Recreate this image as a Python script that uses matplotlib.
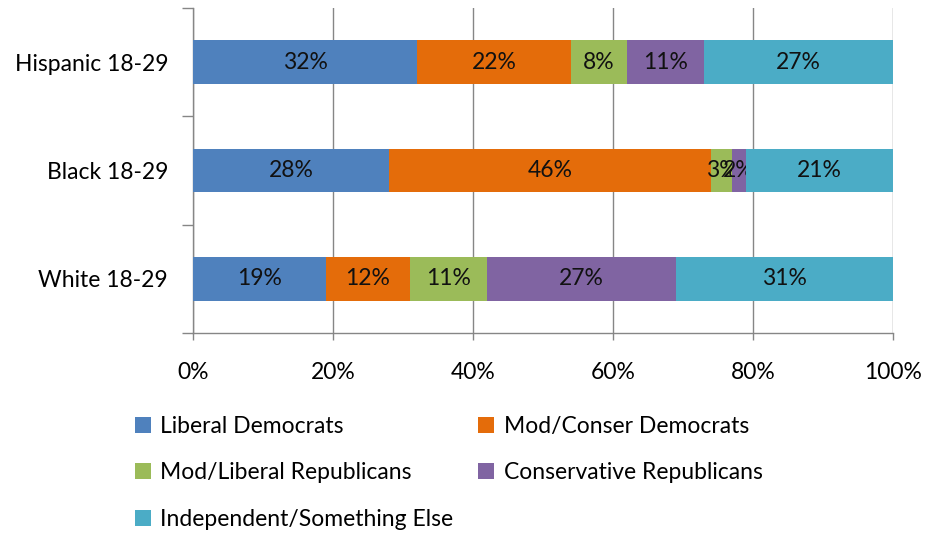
import matplotlib
matplotlib.use('Agg')
import matplotlib.pyplot as plt
from matplotlib.patches import Patch
import numpy as np

plt.rcParams['font.family'] = ['Lato', 'DejaVu Sans']

# Party identification among 18-29 year olds (percent)
groups = ['White 18-29', 'Black 18-29', 'Hispanic 18-29']
series = ['Liberal Democrats', 'Mod/Conser Democrats', 'Mod/Liberal Republicans',
          'Conservative Republicans', 'Independent/Something Else']
liberal_dem = [19, 28, 32]
modcons_dem = [12, 46, 22]
modlib_rep = [11, 3, 8]
cons_rep = [27, 2, 11]
independent = [31, 21, 27]
colors = ['#4F81BD', '#E46C0A', '#9BBB59', '#8064A2', '#4BACC6']

values = [liberal_dem, modcons_dem, modlib_rep, cons_rep, independent]
fs = 16.5

fig = plt.figure(figsize=(9.29, 5.33), dpi=100)
ax = fig.add_axes([0.2078, 0.3752, 0.7535, 0.6098])

y = np.arange(len(groups))
left = np.zeros(len(groups))
for name, vals, col in zip(series, values, colors):
    vals = np.array(vals, dtype=float)
    bars = ax.barh(y, vals, left=left, height=0.4, color=col, label=name, zorder=3)
    ax.bar_label(bars, labels=[f'{v:.0f}%' for v in vals], label_type='center',
                 fontsize=fs, color='#111111')
    left += vals

ax.set_xlim(0, 100)
ax.set_ylim(-0.5, 2.5)
ax.set_xticks(np.arange(0, 101, 20))
ax.set_xticklabels([f'{v}%' for v in range(0, 101, 20)], fontsize=fs)
ax.set_yticks(y)
ax.set_yticklabels(groups, fontsize=fs)
ax.set_yticks([-0.5, 0.5, 1.5, 2.5], minor=True)
ax.tick_params(axis='y', which='major', length=0, pad=18)
ax.tick_params(axis='y', which='minor', length=8, color='#868686', width=1)
ax.tick_params(axis='x', length=5, color='#868686', width=1, pad=16)

ax.grid(axis='x', color='#868686', linewidth=1, zorder=0)
for s in ['top', 'right']:
    ax.spines[s].set_visible(False)
for s in ['left', 'bottom']:
    ax.spines[s].set_color('#868686')
    ax.spines[s].set_linewidth(1)

# legend laid out in two columns, Excel style
h = [Patch(facecolor=c) for c in colors]
leg_kw = dict(frameon=False, fontsize=fs, handlelength=0.7, handleheight=0.7,
              handletextpad=0.4, labelspacing=1.1, borderaxespad=0, borderpad=0)
leg1 = fig.legend([h[0], h[2], h[4]], [series[0], series[2], series[4]],
                  loc='upper left', bbox_to_anchor=(0.145, 0.219), **leg_kw)
leg2 = fig.legend([h[1], h[3]], [series[1], series[3]],
                  loc='upper left', bbox_to_anchor=(0.515, 0.219), **leg_kw)

fig.savefig('out.png', dpi=100)
